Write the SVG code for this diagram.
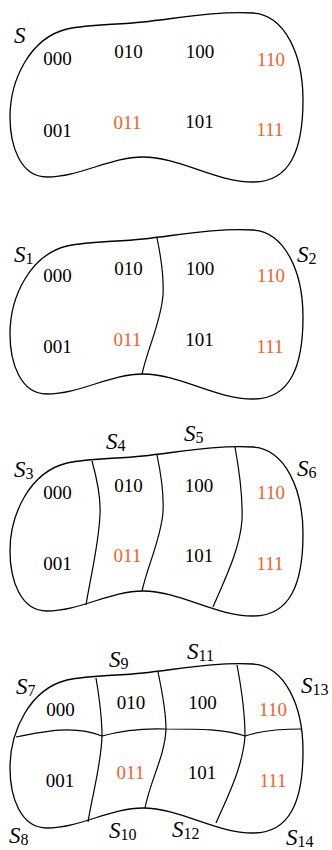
<svg xmlns="http://www.w3.org/2000/svg" width="332" height="850" viewBox="0 0 332 850">
<defs>
<style>
.ol{fill:none;stroke:#000;stroke-width:1.3;stroke-linejoin:round}
.dv{fill:none;stroke:#000;stroke-width:1.2}
.n{font-family:"Liberation Serif","Times New Roman",serif;font-size:19px;fill:#000;text-anchor:middle}
.o{fill:#f5602c}
.s{font-family:"Liberation Serif","Times New Roman",serif;font-size:23px;fill:#000}
.s .i{font-style:italic}
.s .b{font-size:16px}
</style>
<path id="blob" d="M10,117 C10,80 30,38 67,29 C90,24 115,25 143,22 C180,18 215,11 253,13 C285,15 303,55 303,100 C303,150 290,182 253,182 C215,182 180,157 143,157 C110,157 80,177 47,177 C20,177 10,145 10,117 Z"/>
</defs>

<g id="panel1">
<use href="#blob" class="ol"/>
<g id="labels1">
<text class="s" x="14" y="43"><tspan class="i">S</tspan></text>
</g>
<g id="nodes1">
<text class="n" x="57.5" y="65">000</text>
<text class="n" x="128.5" y="58">010</text>
<text class="n" x="200" y="58">100</text>
<text class="n o" x="271" y="66">110</text>
<text class="n" x="57.5" y="137">001</text>
<text class="n o" x="127.5" y="129">011</text>
<text class="n" x="199.5" y="128">101</text>
<text class="n o" x="270" y="136">111</text>
</g>
</g>

<g id="panel2" transform="translate(0,217)">
<use href="#blob" class="ol"/>
<g id="connectors2">
<path class="dv" d="M157,21 C161,40 164,60 163,78 C161,105 148,130 142,157"/>
</g>
<g id="nodes2">
<text class="n" x="57.5" y="65">000</text>
<text class="n" x="128.5" y="58">010</text>
<text class="n" x="200" y="58">100</text>
<text class="n o" x="271" y="65">110</text>
<text class="n" x="57.5" y="136">001</text>
<text class="n o" x="127.5" y="129">011</text>
<text class="n" x="199.5" y="129">101</text>
<text class="n o" x="270" y="136">111</text>
</g>
</g>
<g id="labels2">
<text class="s" x="14" y="262"><tspan class="i">S</tspan><tspan class="b" dy="2">1</tspan></text>
<text class="s" x="297" y="262"><tspan class="i">S</tspan><tspan class="b" dy="2">2</tspan></text>
</g>

<g id="panel3" transform="translate(0,434)">
<use href="#blob" class="ol"/>
<g id="connectors3">
<path class="dv" d="M92,27 C97,45 101,62 100,80 C99,110 90,145 86,171"/>
<path class="dv" d="M157,21 C161,40 164,60 163,78 C161,105 148,130 142,157"/>
<path class="dv" d="M235,13 C239,35 243,60 242,86 C240,115 225,145 213,173"/>
</g>
<g id="nodes3">
<text class="n" x="57.5" y="65">000</text>
<text class="n" x="128.5" y="58">010</text>
<text class="n" x="199" y="58">100</text>
<text class="n o" x="271" y="65">110</text>
<text class="n" x="57.5" y="136">001</text>
<text class="n o" x="127.5" y="128">011</text>
<text class="n" x="199" y="128">101</text>
<text class="n o" x="270" y="136">111</text>
</g>
</g>
<g id="labels3">
<text class="s" x="14" y="477"><tspan class="i">S</tspan><tspan class="b" dy="2">3</tspan></text>
<text class="s" x="106" y="449"><tspan class="i">S</tspan><tspan class="b" dy="2">4</tspan></text>
<text class="s" x="184" y="441"><tspan class="i">S</tspan><tspan class="b" dy="2">5</tspan></text>
<text class="s" x="297" y="476"><tspan class="i">S</tspan><tspan class="b" dy="2">6</tspan></text>
</g>

<g id="panel4" transform="translate(0,651)">
<use href="#blob" class="ol"/>
<g id="connectors4">
<path class="dv" d="M16,86 C45,80 75,74 102,85 C120,80 140,77 166,78 C200,78 225,78 245,85 C260,80 280,78 302,78"/>
<path class="dv" d="M96,27 C99,45 102,65 102,85 C101,115 92,145 88,171"/>
<path class="dv" d="M158,21 C162,40 166,60 166,78 C165,105 150,130 145,157"/>
<path class="dv" d="M237,14 C241,35 245,60 245,85 C243,115 228,145 216,172"/>
</g>
<g id="nodes4">
<text class="n" x="60.5" y="65">000</text>
<text class="n" x="131" y="58">010</text>
<text class="n" x="202.5" y="58">100</text>
<text class="n o" x="273" y="65">110</text>
<text class="n" x="60" y="136">001</text>
<text class="n o" x="130.5" y="128">011</text>
<text class="n" x="202" y="128">101</text>
<text class="n o" x="273" y="136">111</text>
</g>
</g>
<g id="labels4">
<text class="s" x="16" y="694"><tspan class="i">S</tspan><tspan class="b" dy="2">7</tspan></text>
<text class="s" x="109" y="667"><tspan class="i">S</tspan><tspan class="b" dy="2">9</tspan></text>
<text class="s" x="187" y="659"><tspan class="i">S</tspan><tspan class="b" dy="2">11</tspan></text>
<text class="s" x="301" y="693"><tspan class="i">S</tspan><tspan class="b" dy="2">13</tspan></text>
<text class="s" x="9" y="843"><tspan class="i">S</tspan><tspan class="b" dy="2">8</tspan></text>
<text class="s" x="109" y="838"><tspan class="i">S</tspan><tspan class="b" dy="2">10</tspan></text>
<text class="s" x="172" y="837"><tspan class="i">S</tspan><tspan class="b" dy="2">12</tspan></text>
<text class="s" x="286" y="845"><tspan class="i">S</tspan><tspan class="b" dy="2">14</tspan></text>
</g>
</svg>
